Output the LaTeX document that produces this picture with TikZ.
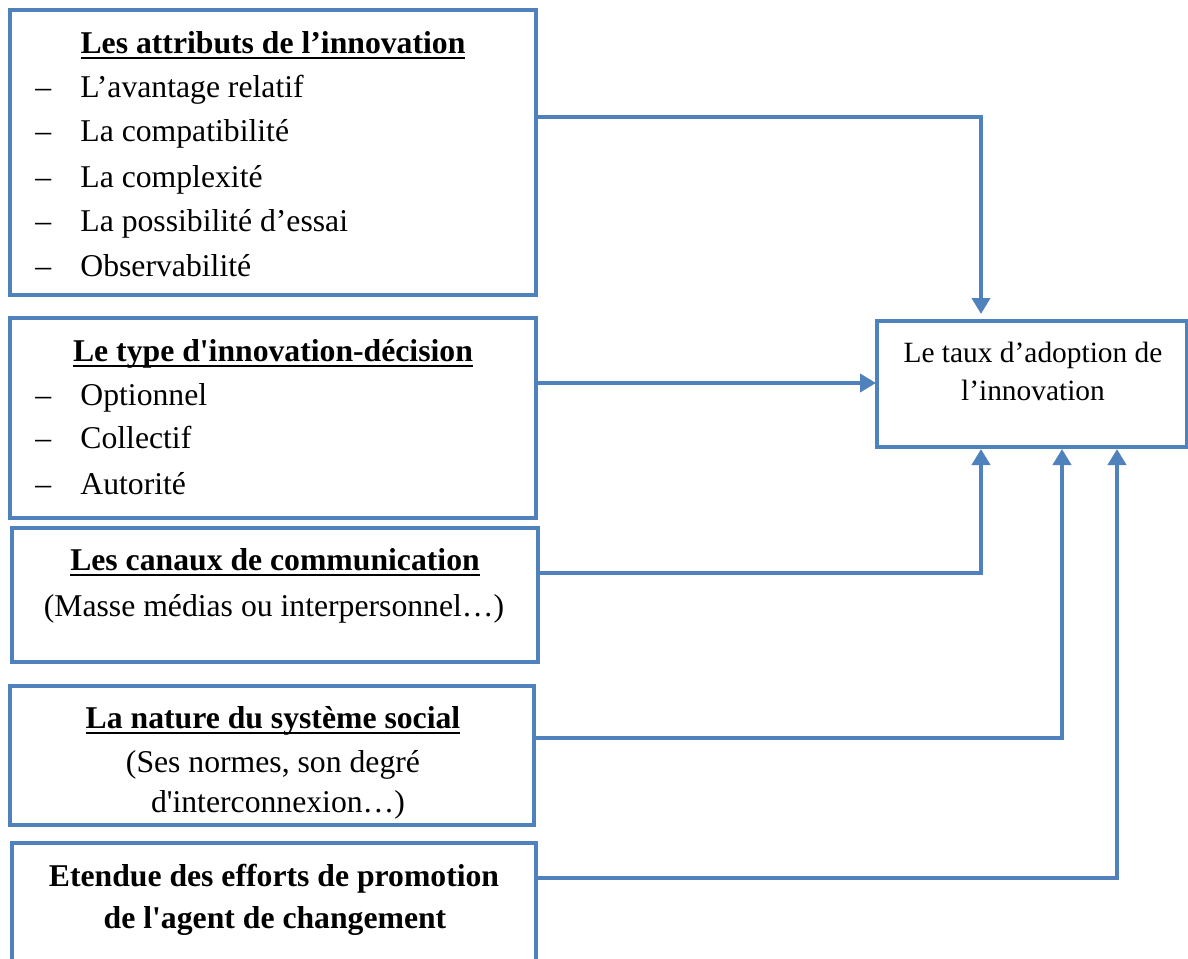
\documentclass[tikz,border=0pt]{standalone}
\usepackage{fontspec}
\setmainfont{Liberation Serif}[Ligatures=TeXOff]
\usetikzlibrary{arrows.meta,calc}
\definecolor{frame}{HTML}{4F81BD}
% bold heading with a thick underline
\newcommand\hd[1]{\setbox0\hbox{\bfseries #1}\rlap{\rule[-3.2pt]{\wd0}{1.4pt}}\box0}

\begin{document}
\begin{tikzpicture}[x=0.5pt,y=-0.5pt,
  box/.style={draw=frame,line width=2pt,rectangle,anchor=north west,inner sep=0pt,outer sep=0pt},
  conn/.style={draw=frame,line width=2pt,-{Triangle[width=9pt,length=8pt]}},
  txt/.style={anchor=base,inner sep=0pt,font=\fontsize{15.85}{19}\selectfont},
  itemtxt/.style={anchor=base west,inner sep=0pt,font=\fontsize{15.85}{19}\selectfont},
  goaltxt/.style={anchor=base,inner sep=0pt,font=\fontsize{14.7}{18}\selectfont}]
\useasboundingbox (0,0) rectangle (1188,958);

% frames
\node[box,minimum width=263pt,minimum height=142.5pt] (attr) at (10,10) {};
\node[box,minimum width=263pt,minimum height=100pt] (type) at (10,318) {};
\node[box,minimum width=263pt,minimum height=67pt] (canal) at (12,528) {};
\node[box,minimum width=262pt,minimum height=69.5pt] (social) at (10,686) {};
\node[box,minimum width=262pt,minimum height=66pt] (promo) at (12,843) {};
\node[box,minimum width=155pt,minimum height=63pt] (rate) at (877,321) {};

% attributes of the innovation
\node[txt] (attrT) at (273,53) {\hd{Les attributs de l’innovation}};
\foreach \n/\y/\t in {1/97/L’avantage relatif,2/141/La compatibilité,3/187/La complexité,4/231/La possibilité d’essai,5/276/Observabilité}{
  \node[itemtxt] (attrD\n) at (35,\y) {–};
  \node[itemtxt] (attrI\n) at (80,\y) {\t};
}

% type of innovation-decision
\node[txt] (typeT) at (273,361) {\hd{Le type d'innovation-décision}};
\foreach \n/\y/\t in {1/405/Optionnel,2/448/Collectif,3/494/Autorité}{
  \node[itemtxt] (typeD\n) at (35,\y) {–};
  \node[itemtxt] (typeI\n) at (80,\y) {\t};
}

% communication channels
\node[txt] (canalT) at (275,570) {\hd{Les canaux de communication}};
\node[txt] (canalS) at (274,616) {(Masse médias ou interpersonnel…)};

% social system
\node[txt] (socialT) at (273,728) {\hd{La nature du système social}};
\node[txt] (socialS1) at (273,772) {(Ses normes, son degré};
\node[txt] (socialS2) at (278,812) {d'interconnexion…)};

% change agent
\node[txt] (promoT1) at (274,886) {\bfseries Etendue des efforts de promotion};
\node[txt] (promoT2) at (275,928) {\bfseries de l'agent de changement};

% rate of adoption
\node[goaltxt] (rateT1) at (1033,362) {Le taux d’adoption de};
\node[goaltxt] (rateT2) at (1033,400) {l’innovation};

% connectors
\draw[conn,shorten >=3.5pt] (attr.east |- 0,117) -| (981,0 |- rate.north);
\draw[conn,shorten >=0.5pt] (type.east |- 0,383) -- (rate.west |- 0,383);
\draw[conn,shorten >=1pt] (canal.east |- 0,573) -| (981,0 |- rate.south);
\draw[conn,shorten >=1pt] (social.east |- 0,738) -| (1062,0 |- rate.south);
\draw[conn,shorten >=1pt] (promo.east |- 0,878) -| (1117,0 |- rate.south);
\end{tikzpicture}
\end{document}
